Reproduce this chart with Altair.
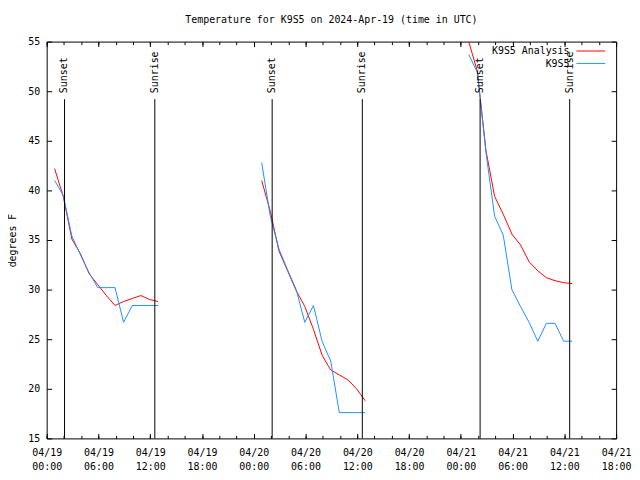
import altair as alt
import pandas as pd

# ---------------- data ----------------
days = ["2024-04-19", "2024-04-20", "2024-04-21"]
obs_times = ["00:55", "01:55", "02:55", "03:55", "04:55", "05:55", "06:55",
             "07:55", "08:55", "09:55", "10:55", "11:55", "12:55"]

analysis_d1 = [42.2, 39.4, 35.1, 33.6, 31.6, 30.5, 29.4, 28.4, 28.8, 29.1, 29.4, 29.0, 28.8]
obs_d1 = [41.0, 39.5, 35.4, 33.5, 31.7, 30.2, 30.2, 30.2, 26.7, 28.4, 28.4, 28.4, 28.4]
analysis_d2 = [41.0, 37.9, 33.9, 31.9, 29.9, 28.3, 26.0, 23.4, 21.9, 21.4, 20.9, 20.0, 18.8]
obs_d2 = [42.8, 37.4, 34.1, 32.0, 30.0, 26.7, 28.4, 24.8, 22.8, 17.6, 17.6, 17.6, 17.6]
analysis_d3 = [55.0, 52.0, 44.0, 39.4, 37.6, 35.6, 34.5, 32.8, 31.9, 31.2, 30.9, 30.7, 30.6]
obs_d3 = [53.7, 51.9, 43.8, 37.4, 35.5, 30.0, 28.3, 26.7, 24.8, 26.6, 26.6, 24.8, 24.8]

series_names = ["K9S5 Analysis", "K9S5"]
series_colors = ["#ff0000", "#1e90ff"]

event_times = ["2024-04-19T02:04:00Z", "2024-04-19T12:32:00Z",
               "2024-04-20T02:08:00Z", "2024-04-20T12:35:00Z",
               "2024-04-21T02:14:00Z", "2024-04-21T12:37:00Z"]
event_labels = ["Sunset", "Sunrise", "Sunset", "Sunrise", "Sunset", "Sunrise"]

title_text = "Temperature for K9S5 on 2024-Apr-19 (time in UTC)"
y_title = "degrees F"
y_ticks = [15, 20, 25, 30, 35, 40, 45, 50, 55]

# ---------------- tables ----------------
rows = []
for day, an, ob in zip(days, [analysis_d1, analysis_d2, analysis_d3],
                       [obs_d1, obs_d2, obs_d3]):
    for t, a, o in zip(obs_times, an, ob):
        ts = f"{day}T{t}:00Z"
        rows.append({"time": ts, "temp": a, "series": series_names[0], "day": day})
        rows.append({"time": ts, "temp": o, "series": series_names[1], "day": day})
df = pd.DataFrame(rows)

events = pd.DataFrame({"time": event_times, "label": event_labels})

FONT = "DejaVu Sans Mono"


def ms(s):
    return int(pd.Timestamp(s).timestamp() * 1000)


x_start = ms("2024-04-19T00:00Z")
x_end = ms("2024-04-21T18:00Z")
major_vals = [ms(t) for t in pd.date_range("2024-04-19T00:00Z", "2024-04-21T18:00Z", freq="6h")]
minor_vals = [ms(t) for t in pd.date_range("2024-04-19T00:00Z", "2024-04-21T18:00Z", freq="2h")]

xscale = alt.Scale(type="utc", domain=[x_start, x_end], nice=False)
yscale = alt.Scale(domain=[15, 55], nice=False, zero=False)

common_axis = dict(domain=False, grid=False, tickColor="black", labelColor="black",
                   labelFont=FONT, labelFontSize=10, tickWidth=1)

x_bottom = alt.Axis(orient="bottom", values=major_vals, offset=-5, tickSize=5,
                    labelPadding=9, title=None, labelLineHeight=14,
                    labelExpr="[utcFormat(datum.value, '%m/%d'), utcFormat(datum.value, '%H:%M')]",
                    labelAlign="center", labelOverlap=False, **common_axis)
y_left = alt.Axis(orient="left", values=y_ticks, offset=-5, tickSize=5, labelPadding=7,
                  title=y_title, titleFont=FONT, titleFontSize=10, titleFontWeight="normal",
                  titleColor="black", titlePadding=10, **common_axis)
x_top = alt.Axis(orient="top", values=major_vals, offset=-5, tickSize=5, labels=False,
                 title=None, **common_axis)
y_right = alt.Axis(orient="right", values=y_ticks, offset=-5, tickSize=5, labels=False,
                   title=None, **common_axis)
x_bottom_minor = alt.Axis(orient="bottom", values=minor_vals, offset=-3, tickSize=3,
                          labels=False, title=None, **common_axis)
x_top_minor = alt.Axis(orient="top", values=minor_vals, offset=-3, tickSize=3,
                       labels=False, title=None, **common_axis)

base = alt.Chart(df)

lines = base.mark_line(clip=True, strokeWidth=1).encode(
    x=alt.X("time:T", scale=xscale, axis=x_bottom),
    y=alt.Y("temp:Q", scale=yscale, axis=y_left),
    color=alt.Color("series:N", scale=alt.Scale(domain=series_names, range=series_colors),
                    legend=None),
    detail="day:N",
)

mirror = base.mark_point(opacity=0).encode(
    x=alt.X("time:T", scale=xscale, axis=x_top),
    y=alt.Y("temp:Q", scale=yscale, axis=y_right),
)
minor_b = base.mark_point(opacity=0).encode(
    x=alt.X("time:T", scale=xscale, axis=x_bottom_minor),
    y=alt.Y("temp:Q", scale=yscale, axis=None),
)
minor_t = base.mark_point(opacity=0).encode(
    x=alt.X("time:T", scale=xscale, axis=x_top_minor),
    y=alt.Y("temp:Q", scale=yscale, axis=None),
)

ev = alt.Chart(events)
ev_rules = ev.mark_rule(color="black", strokeWidth=1).encode(
    x=alt.X("time:T", scale=xscale, axis=None),
    y=alt.YDatum(49.2, type="quantitative", axis=None),
    y2=alt.Y2Datum(15),
)
ev_text = ev.mark_text(angle=270, align="left", baseline="middle", font=FONT,
                       fontSize=10, color="black").encode(
    x=alt.X("time:T", scale=xscale, axis=None),
    y=alt.YDatum(49.8, type="quantitative", axis=None),
    text="label:N",
)

leg_df = pd.DataFrame({"label": series_names, "color": series_colors})
leg_layers = []
for i, (name, col) in enumerate(zip(series_names, series_colors)):
    d = alt.Chart(leg_df.iloc[[i]])
    yy = 10 + 12.5 * i
    leg_layers.append(d.mark_text(align="right", baseline="middle", font=FONT, fontSize=10,
                                  color="black").encode(
        x=alt.value(527), y=alt.value(yy), text="label:N"))
    leg_layers.append(d.mark_rule(color=col, strokeWidth=1).encode(
        x=alt.value(534), x2=alt.value(563), y=alt.value(yy - 0.5)))

chart = alt.layer(lines, mirror, minor_b, minor_t, ev_rules, ev_text, *leg_layers).resolve_axis(
    x="independent", y="independent"
).properties(
    width=574, height=400,
    title=alt.TitleParams(title_text, font=FONT, fontSize=10, fontWeight="normal",
                          anchor="middle", color="black", offset=12),
    autosize=alt.AutoSizeParams(type="none"),
    padding={"left": 39, "top": 32, "right": 16, "bottom": 32},
    background="white",
).configure_view(stroke="black", strokeWidth=1)

chart.save("out.html", embed_options={"renderer": "svg", "actions": False})
